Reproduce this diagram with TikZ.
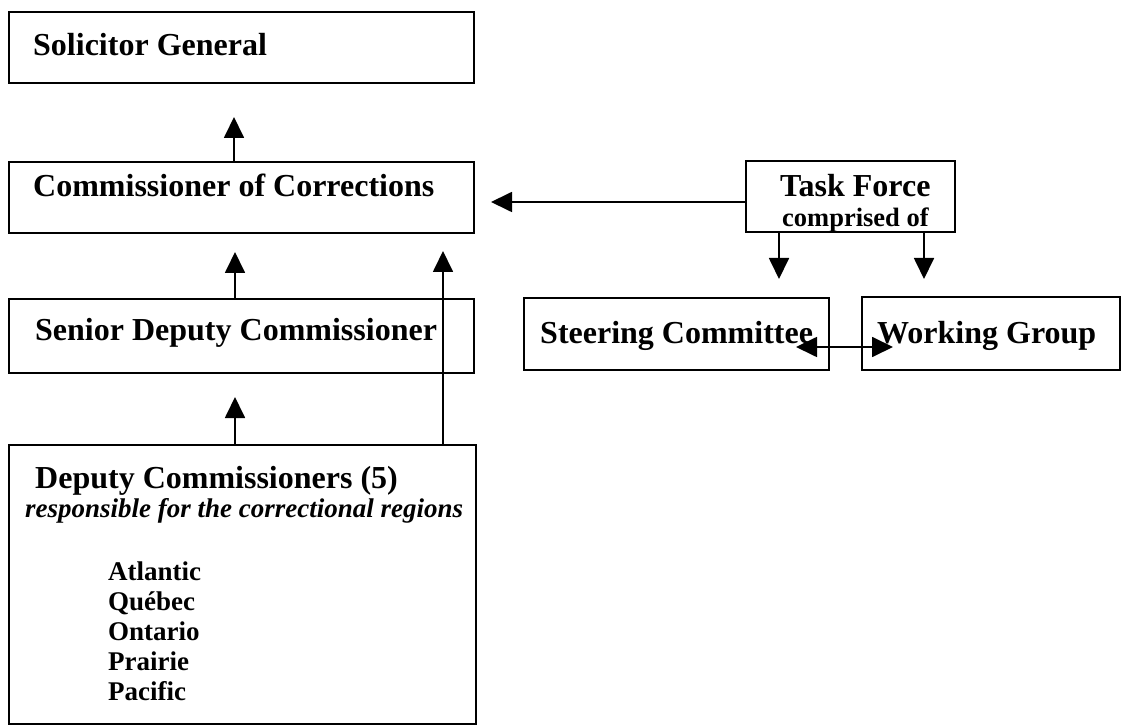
\documentclass[tikz,border=0pt]{standalone}
\usepackage{fontspec}
\setmainfont{Liberation Serif}
\usetikzlibrary{arrows.meta}
\begin{document}
\begin{tikzpicture}[x=1pt,y=-1pt,
  box/.style={draw, line width=1.8pt, inner sep=0pt, outer sep=0pt, anchor=north west},
  big/.style={font=\bfseries\fontsize{32}{36}\selectfont, inner sep=0pt, anchor=base west},
  small/.style={font=\bfseries\fontsize{27}{30}\selectfont, inner sep=0pt, anchor=base west},
  smallit/.style={font=\bfseries\itshape\fontsize{27}{30}\selectfont, inner sep=0pt, anchor=base west},
  arr/.style={line width=1.8pt, -{Triangle[length=21pt,width=20pt]}},
  arrboth/.style={line width=1.8pt, {Triangle[length=21pt,width=20pt]}-{Triangle[length=21pt,width=20pt]}}]
\useasboundingbox (0,0) rectangle (1121,727);
\fill[white] (0,0) rectangle (1121,727);
% boxes
\node[box, minimum width=465pt, minimum height=71pt] (sg) at (9,12) {};
\node[box, minimum width=465pt, minimum height=71pt] (co) at (9,162) {};
\node[box, minimum width=465pt, minimum height=74pt] (sd) at (9,299) {};
\node[box, minimum width=467pt, minimum height=279pt] (dc) at (9,445) {};
\node[box, minimum width=209pt, minimum height=71pt] (tf) at (746,161) {};
\node[box, minimum width=305pt, minimum height=72pt] (sc) at (524,298) {};
\node[box, minimum width=258pt, minimum height=73pt] (wg) at (862,297) {};
% texts
\node[big] (sgt) at (33,56) {Solicitor General};
\node[big] (cot) at (33,197) {Commissioner of Corrections};
\node[big] (sdt) at (35,340) {Senior Deputy Commissioner};
\node[big] (dct) at (35,488) {Deputy Commissioners (5)};
\node[smallit] (dcs) at (25,517) {responsible for the correctional regions};
\node[small] (r1) at (108,580) {Atlantic};
\node[small] (r2) at (108,610) {Québec};
\node[small] (r3) at (108,640) {Ontario};
\node[small] (r4) at (108,670) {Prairie};
\node[small] (r5) at (108,700) {Pacific};
\node[big] (tft) at (780,197) {Task Force};
\node[small, font=\bfseries\fontsize{26.5}{30}\selectfont] (tfs) at (782,227) {comprised of};
\node[big] (sct) at (540,343) {Steering Committee};
\node[big] (wgt) at (877,343) {Working Group};
% connectors
\coordinate (t1) at (234,117);
\coordinate (t2) at (235,252);
\coordinate (t3) at (235,397);
\coordinate (t4) at (443,251);
\coordinate (t5) at (491,202);
\coordinate (t6) at (779,279);
\coordinate (t7) at (924,279);
\draw[arr] (co.north -| t1) -- (t1);
\draw[arr] (sd.north -| t2) -- (t2);
\draw[arr] (dc.north -| t3) -- (t3);
\draw[arr] (dc.north -| t4) -- (t4);
\draw[arr] (tf.west |- t5) -- (t5);
\draw[arr] (tf.south -| t6) -- (t6);
\draw[arr] (tf.south -| t7) -- (t7);
\draw[arrboth] ([xshift=-33pt,yshift=-13pt]sc.east) -- ([xshift=31pt,yshift=-13.5pt]wg.west);
\end{tikzpicture}
\end{document}
